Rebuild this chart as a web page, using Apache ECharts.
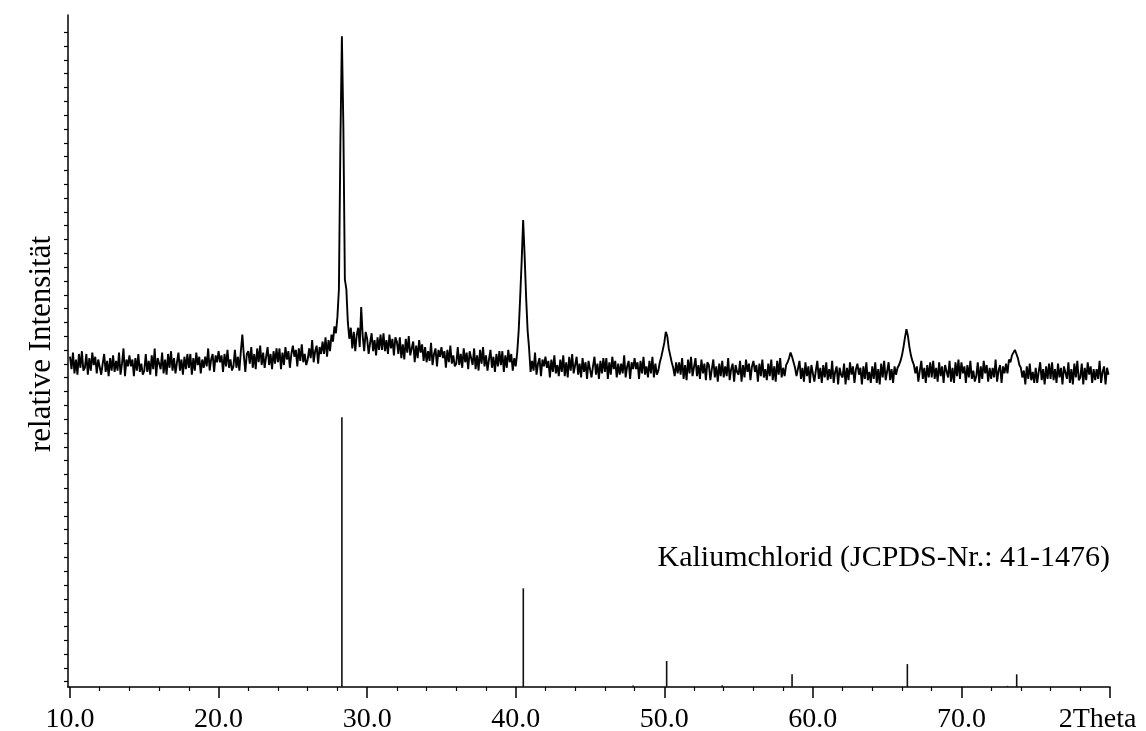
<!DOCTYPE html>
<html>
<head>
<meta charset="utf-8">
<script src="https://cdn.jsdelivr.net/npm/echarts@6/dist/echarts.min.js"></script>
<style>
  html, body { margin: 0; padding: 0; background: #fff; }
  #chart { width: 1146px; height: 731px; }
</style>
</head>
<body>
<div id="chart"></div>
<script>
// Measured powder pattern: one intensity per 0.1° 2θ step, starting at 10.0°.
const START_ANGLE = 10.0;
const STEP = 0.1;
const intensity = [
  239,230,242,227,237,226,241,231,243,229,
  231,241,226,238,229,242,233,239,227,237,
  237,226,234,241,228,236,225,238,229,240,
  228,236,229,242,226,234,245,225,237,232,
  240,232,237,225,238,229,241,228,234,226,
  229,241,228,236,226,240,230,245,225,238,
  239,230,242,227,237,226,241,231,243,229,
  238,227,235,242,229,237,226,239,230,241,
  231,241,226,238,229,242,233,239,227,237,
  231,239,232,245,229,237,241,228,240,235,
  243,235,240,228,241,232,244,231,237,229,
  232,244,231,239,229,243,255,240,228,241,
  243,234,246,231,241,230,245,235,247,233,
  242,231,239,246,233,241,230,243,234,245,
  235,245,230,242,233,246,237,243,231,241,
  247,239,244,232,245,236,248,235,241,233,
  237,245,238,251,235,243,247,234,246,241,
  250,241,253,239,251,243,255,250,261,256,
  268,288,395,471,405,295,288,264,252,260,
  245,257,243,255,260,246,275,254,243,257,
  252,241,249,256,243,251,240,253,244,255,
  244,256,243,251,241,255,245,252,240,253,
  250,241,253,238,248,237,252,242,254,240,
  240,250,235,247,238,251,242,248,236,246,
  235,243,236,249,233,241,245,232,244,239,
  246,238,243,231,244,235,247,234,240,232,
  234,246,233,241,231,245,235,242,230,243,
  242,233,245,230,240,229,244,234,246,232,
  240,229,237,244,231,239,228,241,232,243,
  233,243,228,240,231,244,235,241,229,238,
  232,242,258,282,308,338,312,282,258,245,
  228,236,229,242,226,234,238,225,237,232,
  239,231,236,224,237,228,240,227,233,225,
  237,228,240,225,235,224,239,229,241,227,
  227,239,226,234,224,238,228,235,223,236,
  235,224,232,239,226,234,223,236,227,238,
  228,238,223,235,226,239,230,236,224,234,
  226,234,227,240,224,232,236,223,235,230,
  238,230,235,223,236,227,239,226,232,224,
  236,227,239,224,234,226,229,235,239,244,
  249,257,254,245,240,235,231,225,235,227,
  235,226,238,223,233,222,237,227,239,225,
  226,238,225,233,223,237,227,234,222,235,
  233,222,230,237,224,232,221,234,225,236,
  224,232,225,238,222,230,234,221,233,228,
  226,236,221,233,224,237,228,234,222,232,
  236,228,233,221,234,225,237,224,230,222,
  234,225,237,222,232,221,236,226,238,224,
  231,225,233,235,238,242,239,235,231,225,
  224,236,223,231,221,235,225,232,220,233,
  232,221,229,236,223,231,220,233,224,235,
  222,230,223,236,220,228,232,219,231,226,
  224,234,219,231,222,235,226,232,220,230,
  234,226,231,219,232,223,235,222,228,220,
  232,223,235,220,230,219,234,224,236,222,
  223,235,222,230,220,232,226,231,233,236,
  240,246,253,259,254,246,240,236,233,227,
  232,221,229,236,223,231,220,233,224,235,
  224,236,223,231,221,235,225,232,220,233,
  233,224,236,221,231,220,235,225,237,223,
  235,227,232,220,233,224,236,223,229,221,
  225,235,220,232,223,236,227,233,221,231,
  223,231,224,237,221,229,233,220,232,227,
  234,227,237,235,240,242,244,241,238,233,
  231,224,229,219,232,223,234,222,228,220,
  231,220,228,235,222,230,219,232,223,234,
  223,235,222,230,220,234,224,231,219,232,
  232,223,235,220,230,219,234,224,236,222,
  224,234,219,231,222,235,226,232,220,230,
  222,230,223,236,220,228,232,219,231,226
];

// Reference lines for potassium chloride (JCPDS 41-1476)
const refAngles  = [28.3, 40.51, 47.9, 50.16, 53.9, 58.6, 66.36, 73.1, 73.72];
const refHeights = [195.2, 71.4, 1.0, 18.8, 1.2, 9.2, 16.6, 0.8, 9.2];

// Axis ticks
const majorTicks = [10, 20, 30, 40, 50, 60, 70, 80];
const minorTicks = [12, 14, 16, 18, 22, 24, 26, 28, 32, 34, 36, 38, 42, 44, 46, 48,
                    52, 54, 56, 58, 62, 64, 66, 68, 72, 74, 76, 78];
const xAxisTitle = '2Theta';
const yAxisTitle = 'relative Intensität';
const refLabel = 'Kaliumchlorid (JCPDS-Nr.: 41-1476)';

const X_MIN = 9.865, X_MAX = 80;
const Y_MIN = 0, Y_MAX = 486.3;
const Y_TICK_FIRST = 3.8, Y_TICK_STEP = 10, Y_TICK_COUNT = 48;
const yTicks = [];
for (let k = 0; k < Y_TICK_COUNT; k++) yTicks.push(+(Y_TICK_FIRST + k * Y_TICK_STEP).toFixed(2));

const patternData = intensity.map((v, i) => [+(START_ANGLE + i * STEP).toFixed(2), v]);
const refData = refAngles.map((a, i) => [a, refHeights[i]]);

const FONT = '"Liberation Serif", "DejaVu Serif", serif';
const INK = '#000';

const chart = echarts.init(document.getElementById('chart'), null, { renderer: 'canvas' });

chart.setOption({
  animation: false,
  backgroundColor: '#fff',
  grid: { left: 68, right: 36, top: 15, bottom: 44, containLabel: false, outerBoundsMode: 'none' },
  xAxis: [
    {
      type: 'value', min: X_MIN, max: X_MAX,
      splitLine: { show: false },
      axisLine: { show: true, onZero: false, lineStyle: { color: INK, width: 1.5 } },
      axisTick: { show: true, customValues: majorTicks, length: 11, lineStyle: { color: INK, width: 1.5 } },
      axisLabel: {
        show: true, customValues: majorTicks, margin: 19,
        color: INK, fontFamily: FONT, fontSize: 28,
        formatter: v => (v === 80 ? '{end|' + xAxisTitle + '}' : v.toFixed(1)),
        rich: { end: { fontFamily: FONT, fontSize: 28, color: INK, padding: [0, 25, 0, 0] } }
      }
    },
    {
      type: 'value', min: X_MIN, max: X_MAX, position: 'bottom',
      splitLine: { show: false },
      axisLine: { show: false, onZero: false },
      axisTick: { show: true, customValues: minorTicks, length: 4, lineStyle: { color: INK, width: 1.2 } },
      axisLabel: { show: false }
    }
  ],
  yAxis: {
    type: 'value', min: Y_MIN, max: Y_MAX,
    splitLine: { show: false },
    axisLine: { show: true, lineStyle: { color: INK, width: 1.5 } },
    axisTick: { show: true, customValues: yTicks, length: 4, lineStyle: { color: INK, width: 1.2 } },
    axisLabel: { show: false }
  },
  graphic: [
    {
      type: 'text', x: 42, y: 344, rotation: Math.PI / 2,
      style: { text: yAxisTitle, font: '31px ' + FONT, fill: INK, align: 'center', verticalAlign: 'middle' }
    },
    {
      type: 'text', right: 36, top: 543,
      style: { text: refLabel, font: '30px ' + FONT, fill: INK }
    }
  ],
  series: [
    {
      type: 'line', data: patternData, xAxisIndex: 0,
      showSymbol: false, symbol: 'none', sampling: null,
      lineStyle: { color: INK, width: 1.9 },
      z: 3
    },
    {
      type: 'bar', data: refData, xAxisIndex: 0,
      barWidth: 1.6,
      itemStyle: { color: '#111' },
      z: 2
    }
  ]
});
</script>
</body>
</html>
